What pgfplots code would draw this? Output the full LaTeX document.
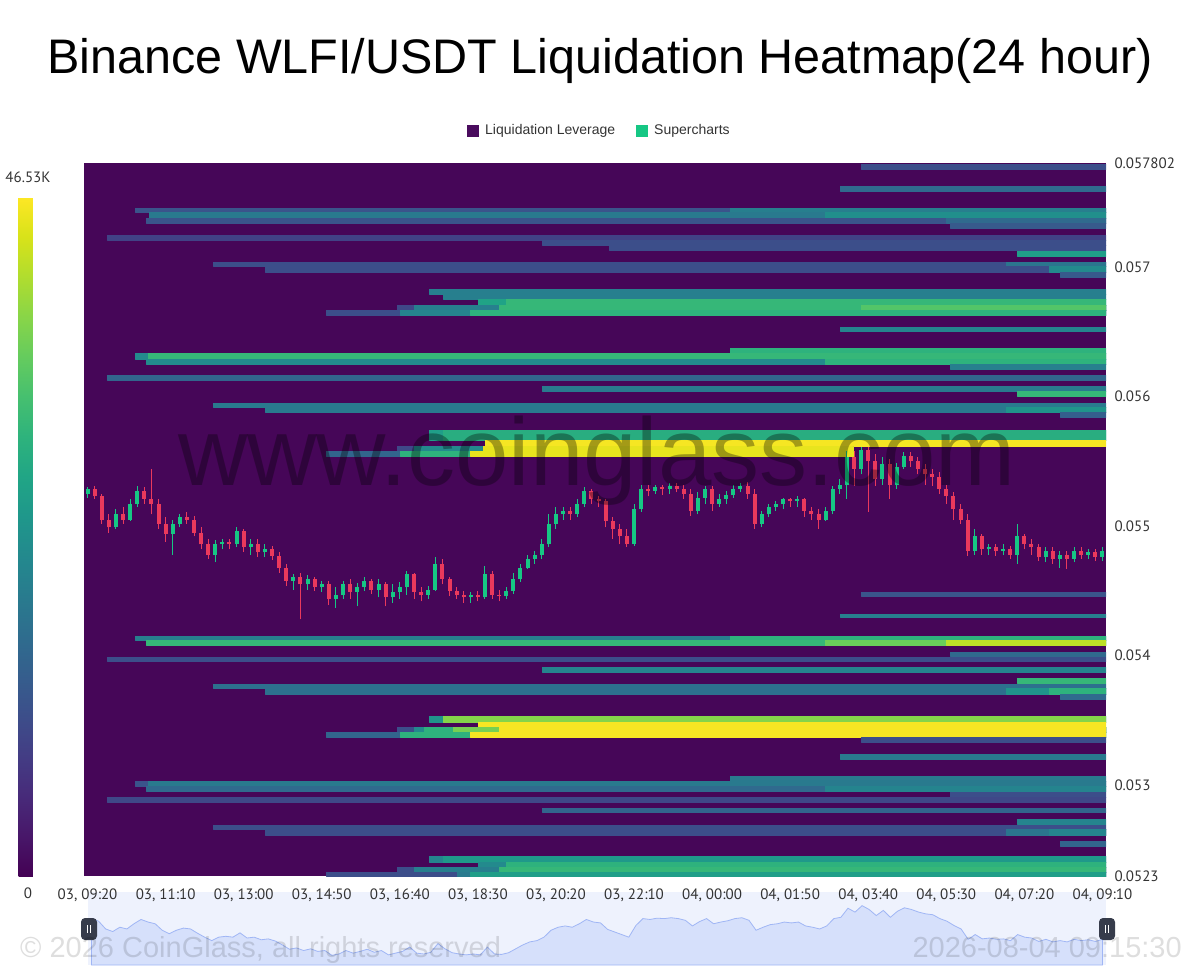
\documentclass[border=0pt]{standalone}
\usepackage{fontspec}
\setmainfont{Liberation Sans}
\newfontfamily\tickfont{PT Sans}
\usepackage{pgfplots}
\usepackage{pgfplotstable}
\pgfplotsset{compat=1.18}

\definecolor{vbg}{RGB}{70,6,88}
\definecolor{upc}{RGB}{22,199,132}
\definecolor{dnc}{RGB}{234,57,92}
\definecolor{tickgray}{RGB}{51,51,51}
\definecolor{navbg}{RGB}{238,242,253}
\definecolor{navfill}{RGB}{214,224,251}
\definecolor{navline}{RGB}{160,182,245}
\definecolor{handle}{RGB}{55,60,75}
\definecolor{legpurple}{RGB}{74,12,94}
\definecolor{leggreen}{RGB}{22,199,132}

% liquidation bands: start/end (minutes from 03 09:15), price range, value (K)
\pgfplotstableread{
x0 x1 y0 y1 c
1095 1440 0.057757 0.057795 11
1065 1440 0.057587 0.057626 16
72 1440 0.057425 0.057456 12
910 1440 0.057425 0.057456 20
92 1440 0.057378 0.057425 19
1044 1440 0.057378 0.057425 23
87 1440 0.057340 0.057378 12
1215 1440 0.057340 0.057378 16
1220 1440 0.057301 0.057340 13
32 1440 0.057209 0.057247 9
645 1440 0.057170 0.057209 11
740 1440 0.057131 0.057170 11
1315 1440 0.057085 0.057124 26
182 1440 0.057008 0.057039 11
1299 1440 0.057008 0.057039 18
256 1440 0.056961 0.057008 11
1360 1440 0.056961 0.057008 22
1375 1440 0.056923 0.056961 13
486 1440 0.056792 0.056830 20
506 1440 0.056753 0.056792 20
555 1440 0.056707 0.056753 27
595 1440 0.056707 0.056753 31
441 1440 0.056668 0.056707 10
465 1440 0.056668 0.056707 20
585 1440 0.056668 0.056707 31
1095 1440 0.056668 0.056707 34
341 1440 0.056629 0.056668 11
445 1440 0.056629 0.056668 21
544 1440 0.056629 0.056668 30
1065 1440 0.056506 0.056537 21
910 1440 0.056336 0.056375 30
72 1440 0.056290 0.056336 22
90 1440 0.056290 0.056336 31
87 1440 0.056251 0.056290 22
1044 1440 0.056251 0.056290 30
1220 1440 0.056212 0.056251 20
32 1440 0.056127 0.056166 15
645 1440 0.056043 0.056081 19
1315 1440 0.056004 0.056043 31
182 1440 0.055919 0.055950 19
256 1440 0.055880 0.055919 19
1299 1440 0.055880 0.055919 24
1375 1440 0.055842 0.055880 14
486 1440 0.055664 0.055741 26
506 1440 0.055664 0.055741 29
565 1440 0.055618 0.055664 46
441 1084 0.055579 0.055618 10
465 1084 0.055579 0.055618 22
562 1084 0.055579 0.055618 45
341 1084 0.055541 0.055579 15
445 1084 0.055541 0.055579 30
544 1084 0.055541 0.055579 45
1095 1440 0.054460 0.054490 12
1065 1440 0.054297 0.054321 20
72 1440 0.054120 0.054151 20
910 1440 0.054120 0.054151 30
87 1440 0.054081 0.054120 31
1044 1440 0.054081 0.054120 36
1215 1440 0.054081 0.054120 42
1220 1440 0.053996 0.054027 16
32 1440 0.053958 0.053988 11
645 1440 0.053873 0.053911 21
1315 1440 0.053788 0.053826 31
182 1440 0.053749 0.053780 17
256 1440 0.053703 0.053749 17
1299 1440 0.053703 0.053749 24
1360 1440 0.053703 0.053749 30
1375 1440 0.053664 0.053703 16
486 1440 0.053487 0.053533 24
506 1440 0.053487 0.053533 38
555 1440 0.053448 0.053487 46
441 1440 0.053409 0.053448 11
465 1440 0.053409 0.053448 22
480 1440 0.053409 0.053448 30
520 1440 0.053409 0.053448 37
585 1440 0.053409 0.053448 46
341 1440 0.053371 0.053409 15
445 1440 0.053371 0.053409 30
544 1440 0.053371 0.053409 46
1095 1440 0.053332 0.053371 11
1065 1440 0.053201 0.053239 19
910 1440 0.053031 0.053070 19
72 1440 0.052992 0.053031 12
90 1440 0.052992 0.053031 19
87 1440 0.052954 0.052992 16
1044 1440 0.052954 0.052992 21
1220 1440 0.052907 0.052946 11
32 1440 0.052869 0.052907 10
645 1440 0.052792 0.052822 15
1315 1440 0.052699 0.052738 21
182 1440 0.052660 0.052691 11
256 1440 0.052614 0.052660 11
1299 1440 0.052614 0.052660 18
1360 1440 0.052614 0.052660 21
1375 1440 0.052529 0.052568 15
486 1440 0.052405 0.052452 21
506 1440 0.052405 0.052452 25
555 1440 0.052367 0.052405 22
595 1440 0.052367 0.052405 30
441 1440 0.052328 0.052367 11
465 1440 0.052328 0.052367 20
585 1440 0.052328 0.052367 31
341 1440 0.052300 0.052328 11
526 1440 0.052300 0.052328 19
544 1440 0.052300 0.052328 26
}\heat

% 10-minute candles: time (minutes from 03 09:15), open, high, low, close
\pgfplotstableread{
t o h l c
5 0.05525 0.05530 0.05522 0.05529
15 0.05529 0.05531 0.05521 0.05523
25 0.05523 0.05525 0.05502 0.05505
35 0.05505 0.05509 0.05495 0.05499
45 0.05499 0.05513 0.05498 0.05509
55 0.05509 0.05515 0.05502 0.05505
65 0.05505 0.05521 0.05504 0.05517
75 0.05517 0.05531 0.05515 0.05527
85 0.05527 0.05530 0.05517 0.05521
95 0.05521 0.05544 0.05509 0.05517
105 0.05517 0.05521 0.05498 0.05502
115 0.05502 0.05507 0.05488 0.05494
125 0.05494 0.05505 0.05478 0.05502
135 0.05502 0.05509 0.05499 0.05507
145 0.05507 0.05511 0.05502 0.05505
155 0.05505 0.05508 0.05492 0.05495
165 0.05495 0.05499 0.05482 0.05486
175 0.05486 0.05490 0.05475 0.05478
185 0.05478 0.05489 0.05472 0.05486
195 0.05486 0.05490 0.05482 0.05488
205 0.05488 0.05490 0.05482 0.05486
215 0.05486 0.05499 0.05484 0.05496
225 0.05496 0.05498 0.05480 0.05484
235 0.05484 0.05490 0.05478 0.05486
245 0.05486 0.05490 0.05476 0.05480
255 0.05480 0.05486 0.05476 0.05482
265 0.05482 0.05485 0.05474 0.05477
275 0.05477 0.05480 0.05464 0.05468
285 0.05468 0.05471 0.05454 0.05458
295 0.05458 0.05463 0.05451 0.05461
305 0.05461 0.05464 0.05428 0.05455
315 0.05455 0.05462 0.05451 0.05459
325 0.05459 0.05461 0.05450 0.05453
335 0.05453 0.05458 0.05449 0.05455
345 0.05455 0.05458 0.05439 0.05444
355 0.05444 0.05453 0.05437 0.05447
365 0.05447 0.05458 0.05444 0.05455
375 0.05455 0.05459 0.05444 0.05449
385 0.05449 0.05456 0.05438 0.05453
395 0.05453 0.05461 0.05450 0.05458
405 0.05458 0.05459 0.05448 0.05451
415 0.05451 0.05459 0.05445 0.05455
425 0.05455 0.05457 0.05438 0.05445
435 0.05445 0.05455 0.05441 0.05449
445 0.05449 0.05457 0.05444 0.05453
455 0.05453 0.05465 0.05447 0.05463
465 0.05463 0.05464 0.05444 0.05449
475 0.05449 0.05453 0.05442 0.05447
485 0.05447 0.05454 0.05444 0.05451
495 0.05451 0.05476 0.05450 0.05471
505 0.05471 0.05475 0.05455 0.05459
515 0.05459 0.05461 0.05446 0.05450
525 0.05450 0.05453 0.05444 0.05447
535 0.05447 0.05450 0.05441 0.05445
545 0.05445 0.05449 0.05441 0.05447
555 0.05447 0.05450 0.05442 0.05445
565 0.05445 0.05469 0.05444 0.05463
575 0.05463 0.05465 0.05444 0.05447
585 0.05447 0.05451 0.05442 0.05446
595 0.05446 0.05453 0.05444 0.05450
605 0.05450 0.05464 0.05448 0.05459
615 0.05459 0.05471 0.05457 0.05468
625 0.05468 0.05478 0.05467 0.05475
635 0.05475 0.05481 0.05471 0.05478
645 0.05478 0.05490 0.05475 0.05486
655 0.05486 0.05509 0.05484 0.05502
665 0.05502 0.05515 0.05498 0.05509
675 0.05509 0.05515 0.05505 0.05512
685 0.05512 0.05515 0.05505 0.05509
695 0.05509 0.05521 0.05507 0.05517
705 0.05517 0.05530 0.05515 0.05527
715 0.05527 0.05529 0.05517 0.05521
725 0.05521 0.05523 0.05515 0.05519
735 0.05519 0.05521 0.05499 0.05504
745 0.05504 0.05507 0.05490 0.05498
755 0.05498 0.05502 0.05486 0.05492
765 0.05492 0.05498 0.05484 0.05486
775 0.05486 0.05517 0.05485 0.05513
785 0.05513 0.05532 0.05511 0.05529
795 0.05529 0.05532 0.05523 0.05527
805 0.05527 0.05532 0.05525 0.05530
815 0.05530 0.05532 0.05524 0.05529
825 0.05529 0.05533 0.05525 0.05531
835 0.05531 0.05533 0.05526 0.05529
845 0.05529 0.05532 0.05521 0.05525
855 0.05525 0.05529 0.05508 0.05512
865 0.05512 0.05526 0.05509 0.05522
875 0.05522 0.05531 0.05517 0.05529
885 0.05529 0.05531 0.05512 0.05517
895 0.05517 0.05525 0.05515 0.05521
905 0.05521 0.05527 0.05517 0.05524
915 0.05524 0.05532 0.05522 0.05529
925 0.05529 0.05533 0.05526 0.05531
935 0.05531 0.05534 0.05521 0.05525
945 0.05525 0.05529 0.05498 0.05502
955 0.05502 0.05512 0.05499 0.05509
965 0.05509 0.05517 0.05507 0.05515
975 0.05515 0.05519 0.05512 0.05517
985 0.05517 0.05522 0.05513 0.05521
995 0.05521 0.05522 0.05515 0.05519
1005 0.05519 0.05523 0.05515 0.05521
1015 0.05521 0.05522 0.05507 0.05512
1025 0.05512 0.05515 0.05505 0.05509
1035 0.05509 0.05513 0.05498 0.05505
1045 0.05505 0.05515 0.05504 0.05512
1055 0.05512 0.05531 0.05509 0.05529
1065 0.05529 0.05536 0.05525 0.05532
1075 0.05532 0.05558 0.05521 0.05553
1085 0.05553 0.05558 0.05531 0.05544
1095 0.05544 0.05561 0.05540 0.05559
1105 0.05559 0.05561 0.05511 0.05550
1115 0.05550 0.05556 0.05531 0.05536
1125 0.05536 0.05553 0.05532 0.05548
1135 0.05548 0.05552 0.05521 0.05532
1145 0.05532 0.05549 0.05529 0.05546
1155 0.05546 0.05557 0.05544 0.05554
1165 0.05554 0.05557 0.05546 0.05550
1175 0.05550 0.05553 0.05540 0.05544
1185 0.05544 0.05548 0.05532 0.05540
1195 0.05540 0.05544 0.05531 0.05538
1205 0.05538 0.05542 0.05525 0.05529
1215 0.05529 0.05532 0.05517 0.05523
1225 0.05523 0.05526 0.05505 0.05513
1235 0.05513 0.05517 0.05502 0.05505
1245 0.05505 0.05509 0.05477 0.05481
1255 0.05481 0.05498 0.05478 0.05492
1265 0.05492 0.05494 0.05478 0.05482
1275 0.05482 0.05486 0.05478 0.05484
1285 0.05484 0.05486 0.05477 0.05481
1295 0.05481 0.05486 0.05478 0.05482
1305 0.05482 0.05485 0.05475 0.05478
1315 0.05478 0.05502 0.05471 0.05492
1325 0.05492 0.05494 0.05482 0.05486
1335 0.05486 0.05490 0.05478 0.05484
1345 0.05484 0.05486 0.05473 0.05476
1355 0.05476 0.05484 0.05472 0.05481
1365 0.05481 0.05484 0.05471 0.05475
1375 0.05475 0.05481 0.05468 0.05478
1385 0.05478 0.05481 0.05467 0.05475
1395 0.05475 0.05484 0.05472 0.05481
1405 0.05481 0.05484 0.05475 0.05478
1415 0.05478 0.05482 0.05475 0.05480
1425 0.05480 0.05482 0.05473 0.05476
1435 0.05476 0.05484 0.05473 0.05481
}\candles

% turn the band table into patch coordinates
\pgfplotstablegetrowsof{\heat}
\pgfmathtruncatemacro\nlast{\pgfplotsretval-1}
\def\heatpts{}
\pgfplotsforeachungrouped \i in {0,...,\nlast}{%
  \pgfplotstablegetelem{\i}{x0}\of\heat\let\xa\pgfplotsretval
  \pgfplotstablegetelem{\i}{x1}\of\heat\let\xb\pgfplotsretval
  \pgfplotstablegetelem{\i}{y0}\of\heat\let\ya\pgfplotsretval
  \pgfplotstablegetelem{\i}{y1}\of\heat\let\yb\pgfplotsretval
  \pgfplotstablegetelem{\i}{c}\of\heat\let\cc\pgfplotsretval
  \xdef\heatpts{\heatpts (\xa,\ya) [\cc] (\xb,\ya) [\cc] (\xb,\yb) [\cc] (\xa,\yb) [\cc]}%
}

\begin{document}%
\begin{tikzpicture}

% navigator (drawn first so the time labels sit on top of it)
\begin{axis}[
  at={(88pt,-965pt)}, anchor=south west,
  scale only axis, width=1018pt, height=73pt,
  xmin=0, xmax=1440, ymin=0.054215, ymax=0.055906,
  hide axis,
]
\fill[navbg] (rel axis cs:0,0) rectangle (rel axis cs:1,1);
\addplot[fill=navfill, draw=navline, line width=0.8pt] table[x=t, y=c] {\candles} \closedcycle;
\end{axis}
\foreach \hx in {89,1107}{
  \fill[handle, rounded corners=4pt] (\hx pt-8pt,-918pt) rectangle (\hx pt+8pt,-940pt);
  \draw[white, line width=0.8pt] (\hx pt-1.5pt,-925pt) -- (\hx pt-1.5pt,-933pt) (\hx pt+1.5pt,-925pt) -- (\hx pt+1.5pt,-933pt);
}

\node[anchor=base, inner sep=0pt] at (600pt,-73pt) {\fontsize{48.5}{56}\selectfont Binance WLFI/USDT Liquidation Heatmap(24 hour)};

% legend
\fill[legpurple] (467pt,-125pt) rectangle (479pt,-137pt);
\node[anchor=west, inner sep=0pt, text=tickgray] at (485pt,-131pt) {\fontsize{14}{16}\selectfont Liquidation Leverage};
\fill[leggreen] (636pt,-125pt) rectangle (648pt,-137pt);
\node[anchor=west, inner sep=0pt, text=tickgray] at (654pt,-131pt) {\fontsize{14}{16}\selectfont Supercharts};

\begin{axis}[
  at={(84pt,-876pt)}, anchor=south west,
  scale only axis, width=1022pt, height=713pt,
  xmin=0, xmax=1440, ymin=0.0523, ymax=0.057802,
  axis background/.style={fill=vbg},
  axis line style={draw=none},
  colormap/viridis,
  point meta min=0, point meta max=46.53,
  xtick={5,115,225,335,445,555,665,775,885,995,1105,1215,1325,1435},
  xticklabels={{03, 09:20},{03, 11:10},{03, 13:00},{03, 14:50},{03, 16:40},{03, 18:30},{03, 20:20},{03, 22:10},{04, 00:00},{04, 01:50},{04, 03:40},{04, 05:30},{04, 07:20},{04, 09:10}},
  ytick={0.0523,0.053,0.054,0.055,0.056,0.057,0.057802},
  yticklabels={0.0523,0.053,0.054,0.055,0.056,0.057,0.057802},
  scaled y ticks=false,
  yticklabel pos=right,
  major tick length=0pt,
  tick label style={font=\tickfont\fontsize{15}{15}\selectfont, text=tickgray},
  xticklabel shift=9pt,
  yticklabel style={anchor=west, xshift=5pt},
  colorbar,
  colorbar style={
    at={(parent axis.south west)}, anchor=south east, xshift=-38pt,
    scale only axis, width=36pt, height=679pt,
    ytick=\empty, xtick=\empty, axis line style={draw=none},
  },
]
\edef\heatplot{\noexpand\addplot[patch, patch type=rectangle, shader=flat corner, point meta=explicit, forget plot] coordinates {\heatpts};}
\heatplot

% rising candles
\addplot[draw=none, mark=none, forget plot,
  restrict expr to domain={\thisrow{c}-\thisrow{o}}{0:1},
  error bars/.cd, y dir=plus, y explicit, error mark=none,
  error bar style={line width=1pt, draw=upc}]
  table[x=t, y=l, y error plus expr=\thisrow{h}-\thisrow{l}] {\candles};
\addplot[draw=none, mark=none, forget plot,
  restrict expr to domain={\thisrow{c}-\thisrow{o}}{0:1},
  error bars/.cd, y dir=plus, y explicit, error mark=none,
  error bar style={line width=4pt, draw=upc}]
  table[x=t, y=o, y error plus expr=\thisrow{c}-\thisrow{o}] {\candles};
% falling candles
\addplot[draw=none, mark=none, forget plot,
  restrict expr to domain={\thisrow{c}-\thisrow{o}}{-1:-0.0000001},
  error bars/.cd, y dir=plus, y explicit, error mark=none,
  error bar style={line width=1pt, draw=dnc}]
  table[x=t, y=l, y error plus expr=\thisrow{h}-\thisrow{l}] {\candles};
\addplot[draw=none, mark=none, forget plot,
  restrict expr to domain={\thisrow{c}-\thisrow{o}}{-1:-0.0000001},
  error bars/.cd, y dir=plus, y explicit, error mark=none,
  error bar style={line width=4pt, draw=dnc}]
  table[x=t, y=c, y error plus expr=\thisrow{o}-\thisrow{c}] {\candles};
\end{axis}

% watermark
\node[anchor=base, inner sep=0pt, text=black, opacity=0.33] at (597pt,-485pt) {\fontsize{96}{100}\selectfont www.coinglass.com};

% colour bar labels
\node[text=tickgray, inner sep=0pt] at (28pt,-177pt) {\tickfont\fontsize{15}{15}\selectfont 46.53K};
\node[text=tickgray, inner sep=0pt] at (28pt,-893pt) {\tickfont\fontsize{15}{15}\selectfont 0};

\node[anchor=base west, inner sep=0pt, text=black, opacity=0.13] at (20pt,-957pt) {\fontsize{29}{32}\selectfont \textcopyright{} 2026 CoinGlass, all rights reserved};
\node[anchor=base east, inner sep=0pt, text=black, opacity=0.13] at (1182pt,-957pt) {\fontsize{29}{32}\selectfont 2026-08-04 09:15:30};

\pgfresetboundingbox
\path[use as bounding box] (0,0) rectangle (1200pt,-972pt);
\end{tikzpicture}%
\end{document}
